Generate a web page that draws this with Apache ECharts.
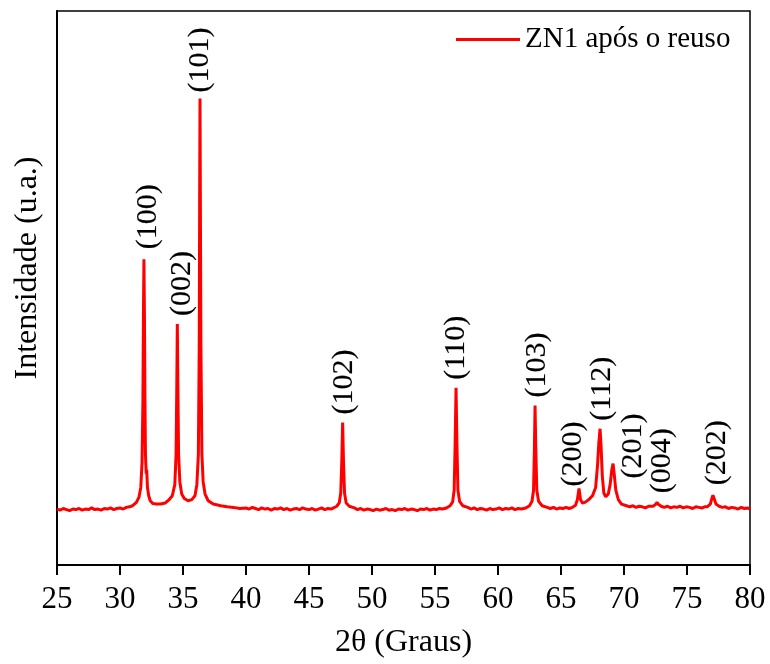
<!DOCTYPE html>
<html>
<head>
<meta charset="utf-8">
<script src="https://cdn.jsdelivr.net/npm/echarts@6/dist/echarts.min.js"></script>
<style>
  html, body { margin: 0; padding: 0; background: #fff; }
  #chart { width: 770px; height: 664px; }
</style>
</head>
<body>
<div id="chart"></div>
<script>
// XRD pattern of ZN1 after reuse: 2θ (degrees) and intensity (a.u.)
const twoTheta = [
  25.00, 25.25, 25.50, 25.75, 26.00, 26.25, 26.50, 26.75, 27.00, 27.25, 27.50, 27.75,
  28.00, 28.25, 28.50, 28.75, 29.00, 29.25, 29.50, 29.75, 30.00, 30.25, 30.50, 30.75,
  31.00, 31.30, 31.50, 31.65, 31.75, 31.82, 31.86, 31.90, 31.94, 31.98, 32.02, 32.08,
  32.12, 32.18, 32.28, 32.40, 32.60, 32.90,
  33.20, 33.60, 33.90, 34.15, 34.35, 34.45, 34.51, 34.55, 34.59, 34.65, 34.75, 34.90,
  35.10, 35.40, 35.70, 35.95, 36.10, 36.22, 36.29, 36.32, 36.35, 36.38, 36.42, 36.50,
  36.60, 36.75, 37.00, 37.40, 38.00, 38.50, 39.00, 39.50,
  40.00, 40.25, 40.50, 40.75, 41.00, 41.25, 41.50, 41.75, 42.00, 42.25, 42.50, 42.75,
  43.00, 43.25, 43.50, 43.75, 44.00, 44.25, 44.50, 44.75, 45.00, 45.25, 45.50, 45.75,
  46.00, 46.25, 46.50, 46.75,
  46.90, 47.20, 47.40, 47.52, 47.60, 47.67, 47.74, 47.82, 47.95, 48.20, 48.60,
  48.85, 49.10, 49.35, 49.60, 49.85, 50.10, 50.35, 50.60, 50.85, 51.10, 51.35, 51.60,
  51.85, 52.10, 52.35, 52.60, 52.85, 53.10, 53.35, 53.60, 53.85, 54.10, 54.35, 54.60,
  54.85, 55.10, 55.35, 55.60,
  55.90, 56.20, 56.40, 56.52, 56.60, 56.67, 56.74, 56.82, 56.95, 57.20, 57.60,
  57.85, 58.10, 58.35, 58.60, 58.85, 59.10, 59.35, 59.60, 59.85, 60.10, 60.35, 60.60,
  60.85, 61.10, 61.35, 61.60, 61.85, 62.00,
  62.20, 62.50, 62.70, 62.82, 62.89, 62.94, 63.00, 63.08, 63.22, 63.50, 63.90,
  64.15, 64.40, 64.65, 64.90, 65.15, 65.40, 65.65,
  65.90, 66.15, 66.30, 66.43, 66.55, 66.70, 66.90, 67.20, 67.50, 67.75, 67.90, 68.00,
  68.10, 68.18, 68.28, 68.40, 68.55, 68.75, 68.90, 69.02, 69.13, 69.22, 69.35, 69.55,
  69.80, 70.20, 70.45, 70.70, 70.95, 71.20, 71.45, 71.70, 71.95, 72.10,
  72.30, 72.50, 72.62, 72.75, 72.95,
  73.20, 73.45, 73.70, 73.95, 74.20, 74.45, 74.70, 74.95, 75.20, 75.45, 75.70, 75.95,
  76.20, 76.40,
  76.60, 76.85, 76.97, 77.06, 77.15, 77.30, 77.55,
  77.80, 78.05, 78.30, 78.55, 78.80, 79.05, 79.30, 79.55, 79.80, 80.00
];
const intensity = [
  101, 99, 102, 100, 98, 101, 100, 102, 99, 101, 100, 103,
  100, 101, 99, 102, 101, 103, 100, 102, 103, 101, 104, 105,
  107, 113, 122, 140, 185, 300, 450, 552, 450, 300, 200, 165,
  172, 140, 125, 116, 111, 110,
  110, 112, 118, 125, 145, 200, 330, 435, 330, 200, 150, 128,
  120, 116, 118, 125, 145, 200, 400, 650, 842, 650, 400, 200,
  150, 128, 116, 110, 107, 105, 104, 102,
  103, 101, 104, 102, 100, 103, 101, 102, 99, 102, 101, 103,
  100, 102, 99, 101, 102, 100, 103, 101, 100, 102, 99, 101,
  103, 100, 102, 101,
  103, 106, 112, 130, 185, 257, 185, 130, 112, 106, 103,
  100, 102, 99, 101, 100, 98, 101, 99, 100, 102, 99, 100,
  98, 101, 100, 102, 99, 101, 100, 98, 101, 100, 102, 99,
  101, 100, 102, 101,
  103, 107, 114, 135, 220, 320, 220, 135, 115, 107, 104,
  101, 103, 100, 102, 101, 99, 102, 100, 101, 103, 100, 102,
  101, 103, 100, 102, 101, 102,
  103, 107, 115, 135, 210, 288, 210, 135, 115, 107, 104,
  102, 104, 101, 103, 102, 104, 102,
  104, 108, 118, 138, 118, 112, 113, 118, 125, 140, 180, 220,
  246, 215, 160, 130, 123, 128, 145, 170, 183, 165, 135, 118,
  110, 107, 105, 107, 104, 106, 105, 103, 106, 105,
  106, 109, 113, 109, 106,
  104, 106, 103, 105, 104, 106, 103, 105, 104, 102, 105, 104,
  103, 105,
  105, 110, 120, 126, 120, 110, 106,
  104, 105, 102, 104, 103, 101, 104, 102, 103, 101
];

// Miller indices of the indexed reflections, their 2θ and peak-top intensity
const hklLabels = ['(100)', '(002)', '(101)', '(102)', '(110)', '(103)', '(200)', '(112)', '(201)', '(004)', '(202)'];
const peakTheta = [31.90, 34.55, 36.35, 47.67, 56.67, 62.94, 66.43, 68.10, 69.13, 72.62, 77.06];
const peakIntensity = [552, 435, 842, 257, 320, 288, 138, 246, 183, 113, 126];

const seriesName = 'ZN1 após o reuso';

// label placement relative to the peak top, in pixels: [right shift, lift]
const labelShift = {
  '(100)': [4, 10], '(002)': [5, 8], '(101)': [0, 6], '(102)': [2, 8],
  '(110)': [0, 8], '(103)': [2, 8], '(200)': [-6, 2], '(112)': [2, 8],
  '(201)': [20, -15], '(004)': [5, 9], '(202)': [4, 10]
};

const FONT = '"Liberation Serif", "Times New Roman", serif';

const chart = echarts.init(document.getElementById('chart'), null, { renderer: 'canvas' });

const pattern = twoTheta.map((t, i) => [t, intensity[i]]);
const peaks = hklLabels.map((h, i) => {
  const s = labelShift[h];
  return {
    value: [peakTheta[i], peakIntensity[i]],
    name: h,
    label: { position: [s[0], -s[1]] }
  };
});

chart.setOption({
  animation: false,
  backgroundColor: '#ffffff',
  grid: {
    left: 57, right: 20, top: 11, bottom: 97,
    show: true, borderColor: '#000', borderWidth: 1.5, backgroundColor: 'transparent'
  },
  legend: {
    data: [seriesName],
    left: 456, top: 25,
    padding: 0,
    icon: 'rect',
    itemWidth: 64, itemHeight: 3,
    textStyle: { fontFamily: FONT, fontSize: 29, color: '#000' }
  },
  xAxis: {
    type: 'value',
    min: 25, max: 80, interval: 5,
    name: '2θ (Graus)',
    nameLocation: 'middle',
    nameGap: 62,
    nameTextStyle: { fontFamily: FONT, fontSize: 32, color: '#000' },
    axisLine: { show: true, lineStyle: { color: '#000', width: 2 } },
    axisTick: { show: true, inside: false, length: 10, lineStyle: { color: '#000', width: 2 } },
    axisLabel: { fontFamily: FONT, fontSize: 31, color: '#000', margin: 19 },
    splitLine: { show: false }
  },
  yAxis: {
    type: 'value',
    min: 0, max: 1000,
    name: 'Intensidade (u.a.)',
    nameLocation: 'middle',
    nameGap: 13,
    nameTextStyle: { fontFamily: FONT, fontSize: 32, color: '#000', padding: [0, 0, 0, 40] },
    axisLine: { show: true, lineStyle: { color: '#000', width: 2 } },
    axisTick: { show: false },
    axisLabel: { show: false },
    splitLine: { show: false }
  },
  series: [
    {
      name: seriesName,
      type: 'line',
      data: pattern,
      symbol: 'none',
      smooth: false,
      lineStyle: { color: '#ff0000', width: 3 },
      itemStyle: { color: '#ff0000' },
      z: 2
    },
    {
      name: 'hkl',
      type: 'scatter',
      data: peaks,
      symbolSize: 0.1,
      itemStyle: { color: 'transparent' },
      silent: true,
      label: {
        show: true,
        formatter: p => p.name,
        rotate: 90,
        align: 'left',
        verticalAlign: 'middle',
        fontFamily: FONT,
        fontSize: 30,
        color: '#000',
        opacity: 1,
        textBorderColor: '#000',
        textBorderWidth: 0.15
      },
      z: 3
    }
  ]
});
</script>
</body>
</html>
